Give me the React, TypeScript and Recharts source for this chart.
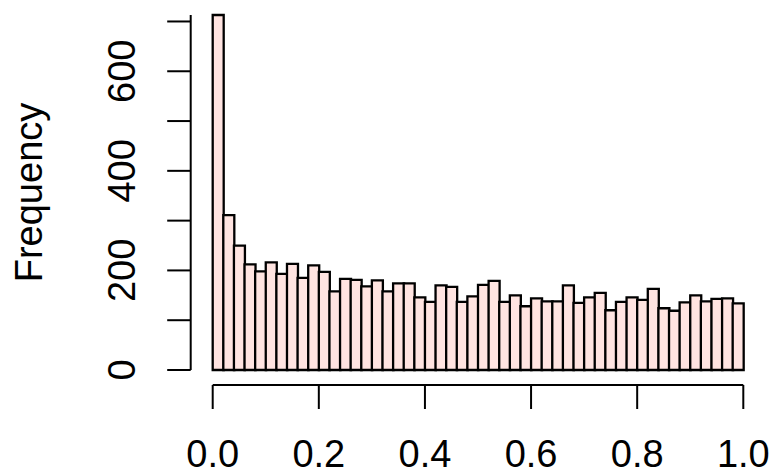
import { BarChart, Bar, XAxis, YAxis } from 'recharts'

// histogram: 50 bins of width 0.02 over [0, 1]
const BIN_WIDTH = 0.02
const counts = [
  713, 311, 250, 212, 198, 216, 193, 213, 185, 210,
  197, 158, 183, 181, 168, 180, 158, 174, 174, 146,
  137, 170, 167, 137, 148, 171, 179, 137, 150, 128,
  144, 138, 138, 170, 135, 146, 155, 120, 137, 146,
  141, 163, 124, 119, 136, 150, 138, 143, 144, 134,
]
const xTicks = [0, 0.2, 0.4, 0.6, 0.8, 1]
const yTicks = [0, 100, 200, 300, 400, 500, 600, 700]
const yLabelled = [0, 200, 400, 600]

const data = counts.map((count, i) => ({ mid: (i + 0.5) * BIN_WIDTH, count }))

const FONT = '"Liberation Sans", Arial, Helvetica, sans-serif'
const FONT_SIZE = 38

function XTick({ x, y, payload }: any) {
  return (
    <text x={x} y={y} textAnchor="middle" fontFamily={FONT} fontSize={FONT_SIZE} fill="#000">
      {payload.value.toFixed(1)}
    </text>
  )
}

function YTick({ x, y, payload }: any) {
  if (!yLabelled.includes(payload.value)) return null
  return (
    <text
      x={x}
      y={y}
      transform={`rotate(-90, ${x}, ${y})`}
      textAnchor="middle"
      fontFamily={FONT}
      fontSize={FONT_SIZE}
      fill="#000"
    >
      {payload.value}
    </text>
  )
}

export default function App() {
  return (
    <div style={{ position: 'absolute', left: 0, top: 0, width: 771, height: 475, background: '#fff' }}>
      <BarChart
        width={771}
        height={475}
        data={data}
        margin={{ top: 15, right: 27.7, bottom: 0, left: 0 }}
        barCategoryGap={0}
        barGap={0}
      >
        {/* spacers push the R-style axes away from the bars */}
        <XAxis xAxisId="gap" height={15} axisLine={false} tickLine={false} tick={false} />
        <YAxis yAxisId="gap" width={22} axisLine={false} tickLine={false} tick={false} />
        <XAxis
          xAxisId="main"
          dataKey="mid"
          type="number"
          domain={[0, 1]}
          ticks={xTicks}
          height={90}
          axisLine={{ stroke: '#000', strokeWidth: 2 }}
          tickLine={{ stroke: '#000', strokeWidth: 2 }}
          tickSize={24}
          tickMargin={57.5}
          tick={<XTick />}
          interval={0}
        />
        <YAxis
          yAxisId="main"
          type="number"
          domain={[0, 700]}
          ticks={yTicks}
          width={190.7}
          axisLine={{ stroke: '#000', strokeWidth: 2 }}
          tickLine={{ stroke: '#000', strokeWidth: 2 }}
          tickSize={23.5}
          tickMargin={32.2}
          tick={<YTick />}
          interval={0}
          label={{
            value: 'Frequency',
            angle: -90,
            position: 'insideLeft',
            offset: 25,
            dx: 4,
            style: { textAnchor: 'middle', fontFamily: FONT, fontSize: FONT_SIZE, fill: '#000' },
          }}
        />
        <Bar
          xAxisId="main"
          yAxisId="main"
          dataKey="count"
          fill="#FFE4E1"
          stroke="#000"
          strokeWidth={2.3}
          isAnimationActive={false}
        />
      </BarChart>
    </div>
  )
}
